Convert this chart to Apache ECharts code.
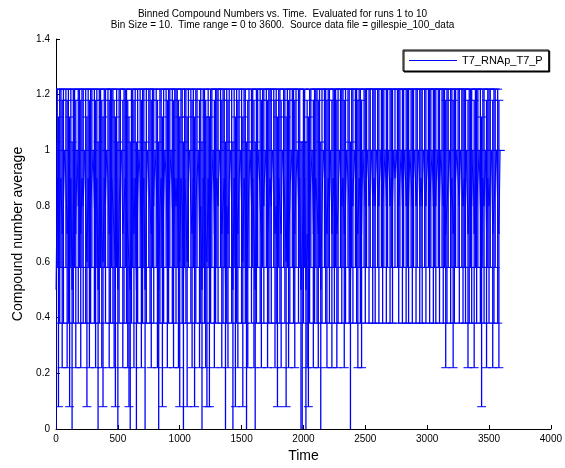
<!DOCTYPE html>
<html>
<head>
<meta charset="utf-8">
<script src="https://cdn.jsdelivr.net/npm/echarts@6/dist/echarts.min.js"></script>
<style>
html,body{margin:0;padding:0;background:#fff;}
#chart{width:565px;height:468px;}
</style>
</head>
<body>
<div id="chart"></div>
<script>
// ---- data ----
const titleLines = [
  'Binned Compound Numbers vs. Time.  Evaluated for runs 1 to 10',
  'Bin Size = 10.  Time range = 0 to 3600.  Source data file = gillespie_100_data'
];
const seriesName = 'T7_RNAp_T7_P';
const binSize = 10;
const xTicks = [0, 500, 1000, 1500, 2000, 2500, 3000, 3500, 4000];
const yTicks = [0, 0.2, 0.4, 0.6, 0.8, 1, 1.2, 1.4];
// binned mean values (one per bin, read/estimated from the picture)
const meanValues = [
  0.5,0.9,0.6,0.8,0.9,0.7,0.8,1.0,0.9,0.7,0.8,0.6,0.9,0.5,0.8,0.9,0.7,1.0,0.8,0.9,
  0.7,0.9,0.8,1.0,0.8,0.6,0.9,0.7,0.8,0.9,1.0,0.8,0.7,0.9,0.5,0.8,0.9,0.7,0.6,0.9,
  0.8,1.0,0.9,0.7,0.8,0.9,0.8,0.7,0.6,0.9,0.5,0.8,0.9,1.0,0.7,0.8,0.9,0.8,0.7,0.6,
  0.5,0.8,0.9,0.7,0.9,0.5,0.8,1.0,0.9,0.7,0.8,0.9,0.5,0.8,1.0,0.9,0.8,0.7,0.9,0.8,
  1.0,0.9,0.7,0.5,0.8,0.9,0.6,0.8,1.0,0.9,0.7,0.8,0.9,1.0,0.8,0.7,0.9,0.8,0.9,0.7,
  0.6,0.9,0.8,0.5,0.9,0.8,0.6,0.9,1.0,0.8,0.7,0.9,0.6,0.8,0.9,1.0,0.7,0.8,0.5,0.9,
  0.8,0.7,0.6,0.9,0.6,0.8,0.9,1.0,0.7,0.8,0.9,0.8,1.0,0.9,0.7,0.8,0.9,0.5,0.8,0.7,
  0.9,1.0,0.8,0.5,0.9,0.6,0.8,0.7,0.9,1.0,0.8,0.6,0.9,0.8,0.5,0.7,0.9,1.0,0.8,0.9,
  0.7,0.5,0.8,0.9,1.0,0.8,0.7,0.9,0.8,1.0,0.9,0.7,0.8,0.9,0.8,1.0,0.9,0.7,0.8,0.6,
  0.9,0.8,0.7,1.0,0.9,0.8,0.6,0.9,0.7,0.8,1.0,0.9,0.8,0.7,0.9,1.0,0.8,0.9,0.5,0.5,
  0.8,0.9,0.5,0.7,0.6,0.8,0.9,1.0,0.7,0.8,0.9,0.8,0.7,0.9,0.5,0.8,1.0,0.9,0.8,0.7,
  0.9,0.8,1.0,0.7,0.9,0.8,0.9,0.7,0.8,1.0,0.9,0.8,0.9,0.7,0.8,1.0,0.9,0.8,0.5,0.9,
  0.8,1.0,0.9,0.8,0.7,0.9,0.8,0.7,1.0,0.9,0.8,0.9,1.0,0.8,0.9,1.0,0.8,0.9,0.8,1.0,
  0.9,0.8,1.0,0.9,0.8,0.9,1.0,0.8,0.9,1.0,0.8,0.9,0.8,1.0,0.9,1.0,0.9,0.8,0.9,1.0,
  0.8,0.9,1.0,0.8,0.9,0.8,1.0,0.9,0.8,0.9,1.0,0.8,0.9,1.0,0.8,0.9,0.8,1.0,0.9,0.8,
  1.0,0.9,0.8,0.9,1.0,0.8,0.9,0.8,1.0,0.9,0.8,1.0,0.9,0.8,0.9,0.7,0.8,0.9,1.0,0.8,
  0.9,0.7,0.8,0.9,1.0,0.9,0.8,1.0,0.9,0.8,0.9,0.8,1.0,0.7,0.8,0.9,0.8,1.0,0.7,0.9,
  0.8,0.9,1.0,0.8,0.6,0.9,0.8,1.0,0.7,0.9,0.8,0.9,1.0,0.7,0.8,0.9,1.0,0.8,0.7,1.0
];
// error-bar half length for each mean level (read from the cap positions)
const errLevels = [0.4, 0.5, 0.6, 0.7, 0.8, 0.9, 1.0];
const errHalf   = [0.52, 0.53, 0.52, 0.48, 0.42, 0.32, 0.0];

// ---- build ----
const lineData = meanValues.map((v, i) => [i * binSize, v]);
function errOf(v) {
  let best = 0, d = 1e9;
  errLevels.forEach((l, k) => { const dd = Math.abs(l - v); if (dd < d) { d = dd; best = k; } });
  return errHalf[best];
}
const errData = meanValues.map((v, i) => [i * binSize, v - errOf(v), v + errOf(v)]);
const capHalf = 36; // in time units

const blue = '#0000ff';
const font = 'Liberation Sans, Arial, sans-serif';
const chart = echarts.init(document.getElementById('chart'), null, {renderer: 'canvas'});
chart.setOption({
  animation: false,
  backgroundColor: '#fff',
  title: {
    text: titleLines.join('\n'),
    left: 'center',
    top: 3,
    textStyle: {fontFamily: font, fontSize: 10, fontWeight: 'normal', color: '#000', lineHeight: 11.5}
  },
  legend: {
    data: [seriesName],
    left: 403, top: 50,
    padding: [5, 6],
    itemWidth: 48, itemHeight: 1, icon: 'rect',
    backgroundColor: '#fff',
    borderColor: '#000', borderWidth: 1,
    shadowColor: '#000', shadowOffsetX: 1, shadowOffsetY: 1, shadowBlur: 0,
    textStyle: {fontFamily: font, fontSize: 11, color: '#000'}
  },
  grid: {left: 56, right: 13, top: 39, bottom: 39, containLabel: false},
  xAxis: {
    type: 'value', min: 0, max: 4000, interval: 500,
    name: 'Time', nameLocation: 'middle', nameGap: 20,
    nameTextStyle: {fontFamily: font, fontSize: 14, color: '#000'},
    axisLine: {onZero: false, lineStyle: {color: '#000', width: 1}},
    axisTick: {inside: true, length: 4, lineStyle: {color: '#000'}},
    axisLabel: {color: '#000', fontSize: 10, fontFamily: font, margin: 5,
      formatter: v => String(v)},
    splitLine: {show: false}
  },
  yAxis: {
    type: 'value', min: 0, max: 1.4, interval: 0.2,
    name: 'Compound number average', nameLocation: 'middle', nameGap: 29,
    nameTextStyle: {fontFamily: font, fontSize: 14, color: '#000'},
    axisLine: {show: true, lineStyle: {color: '#000', width: 1}},
    axisTick: {show: true, inside: true, length: 4, lineStyle: {color: '#000'}},
    axisLabel: {color: '#000', fontSize: 10, fontFamily: font, margin: 6,
      formatter: v => String(Math.round(v * 10) / 10)},
    splitLine: {show: false}
  },
  series: [
    {
      type: 'custom',
      name: 'err',
      clip: true,
      data: errData,
      silent: true,
      renderItem: function (params, api) {
        const x = api.value(0);
        const lo = api.coord([x, api.value(1)]);
        const hi = api.coord([x, api.value(2)]);
        const w = api.size([capHalf, 0])[0];
        const st = {stroke: blue, lineWidth: 1.3};
        return {
          type: 'group',
          children: [
            {type: 'line', shape: {x1: lo[0], y1: lo[1], x2: hi[0], y2: hi[1]}, style: st},
            {type: 'line', shape: {x1: hi[0] - w, y1: hi[1], x2: hi[0] + w, y2: hi[1]}, style: {stroke: blue, lineWidth: 1}},
            {type: 'line', shape: {x1: lo[0] - w, y1: lo[1], x2: lo[0] + w, y2: lo[1]}, style: {stroke: blue, lineWidth: 1}}
          ]
        };
      }
    },
    {
      type: 'line',
      name: seriesName,
      data: lineData,
      showSymbol: false,
      symbol: 'none',
      color: blue,
      lineStyle: {color: blue, width: 1}
    }
  ]
});
</script>
</body>
</html>
